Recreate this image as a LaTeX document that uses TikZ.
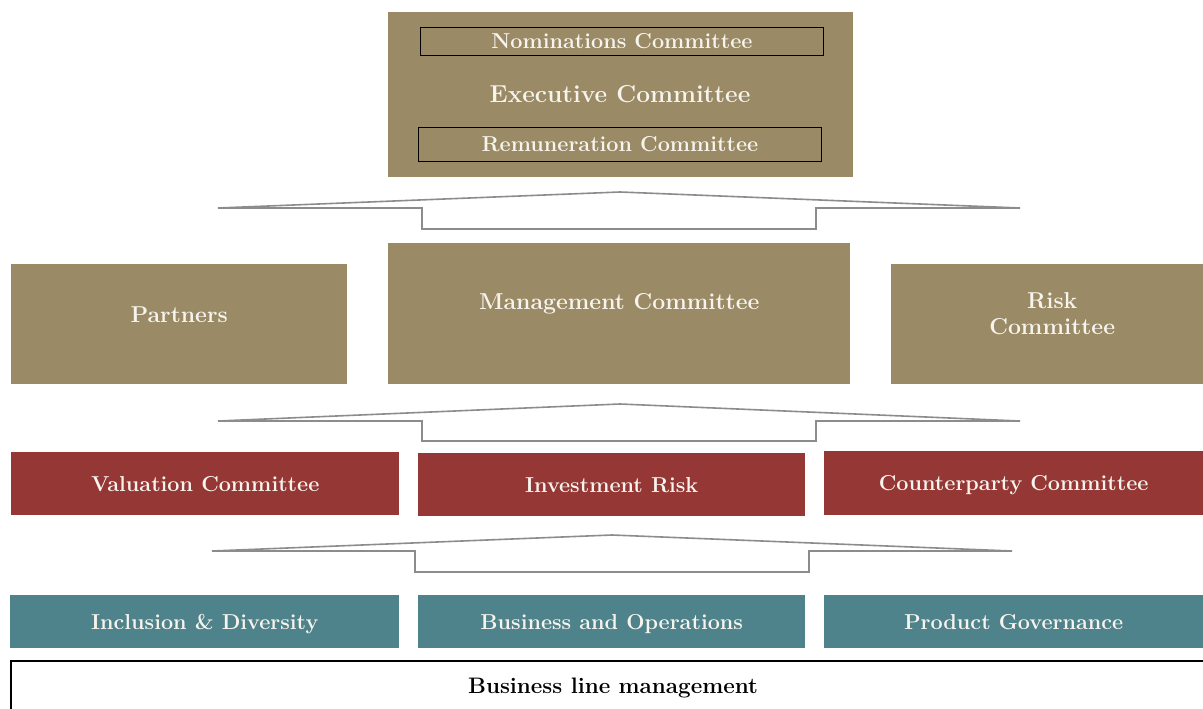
\documentclass[tikz,border=0pt]{standalone}
\usepackage{tikz}
\usetikzlibrary{positioning}
\definecolor{KHAKI}{HTML}{9A8A65}
\definecolor{CRIMSON}{HTML}{953735}
\definecolor{TEAL}{HTML}{4F838B}
\definecolor{PAPER}{HTML}{F7F4EE}
\definecolor{GREY}{HTML}{8C8C8C}
\definecolor{BLACK}{HTML}{000000}

\tikzset{
    box/.style={anchor=north west, inner sep=0pt, text=PAPER, align=center,
        text height=16pt, text depth=1pt,
        font=\bfseries\fontsize{21.6}{26}\selectfont},
    board/.style={box, fill=KHAKI},
    boardlabel/.style={text=PAPER, align=center, font=\bfseries\fontsize{23}{26}\selectfont},
    riskbox/.style={box, fill=CRIMSON},
    opsbox/.style={box, fill=TEAL},
    subbox/.style={box, draw=BLACK, line width=0.9pt, fill=none},
    lift/.style={draw=GREY, line width=1.6pt, line join=miter},
}

\begin{document}
\begin{tikzpicture}[x=1pt, y=-1pt]
    \useasboundingbox (0,0) rectangle (1203,709);

    % executive level
    \node[board, minimum width=465pt, minimum height=165pt] (exec) at (388,12) {};
    \node[subbox, minimum width=403pt, minimum height=28pt] (nom) at (420,27) {Nominations Committee};
    \node[subbox, minimum width=403pt, minimum height=34pt] (rem) at (418,127) {Remuneration Committee};
    \node[boardlabel, font=\bfseries\fontsize{24.5}{28}\selectfont] (execlabel) at (620,94) {Executive Committee};

    \draw[lift] (218,208) -- (620,192) -- (1020,208) -- (816,208) -- (816,229) -- (422,229) -- (422,208) -- cycle;

    % management level
    \node[board, minimum width=336pt, minimum height=120pt] (partners) at (11,264) {};
    \node[board, minimum width=462pt, minimum height=141pt] (mgmt) at (388,243) {};
    \node[board, minimum width=312pt, minimum height=120pt] (risk) at (891,264) {};
    \node[boardlabel] (partnerslabel) at ([yshift=10pt]partners.center) {Partners};
    \node[boardlabel] (mgmtlabel) at ([yshift=10pt]mgmt.center) {Management Committee};
    \node[boardlabel] (risklabel) at ([xshift=5pt, yshift=11pt]risk.center) {Risk\\Committee};

    \draw[lift] (218,421) -- (620,404) -- (1020,421) -- (816,421) -- (816,441) -- (422,441) -- (422,421) -- cycle;

    % risk committees
    \node[riskbox, minimum width=388pt, minimum height=63pt] (valuation) at (11,452) {Valuation Committee};
    \node[riskbox, minimum width=387pt, minimum height=63pt] (invest) at (418,453) {Investment Risk};
    \node[riskbox, minimum width=379pt, minimum height=64pt] (counter) at (824,451) {Counterparty Committee};

    \draw[lift] (212,551) -- (612,535) -- (1012,551) -- (809,551) -- (809,572) -- (415,572) -- (415,551) -- cycle;

    % operating forums
    \node[opsbox, minimum width=389pt, minimum height=53pt] (diversity) at (10,595) {Inclusion \& Diversity};
    \node[opsbox, minimum width=387pt, minimum height=53pt] (business) at (418,595) {Business and Operations};
    \node[opsbox, minimum width=379pt, minimum height=53pt] (product) at (824,595) {Product Governance};

    \node[box, draw=BLACK, line width=1.8pt, fill=white, minimum width=1205pt, minimum height=60pt] (line) at (10,660) {};
    \node[text=BLACK, font=\bfseries\fontsize{22.4}{26}\selectfont] (linelabel) at (613,688) {Business line management};
\end{tikzpicture}
\end{document}
